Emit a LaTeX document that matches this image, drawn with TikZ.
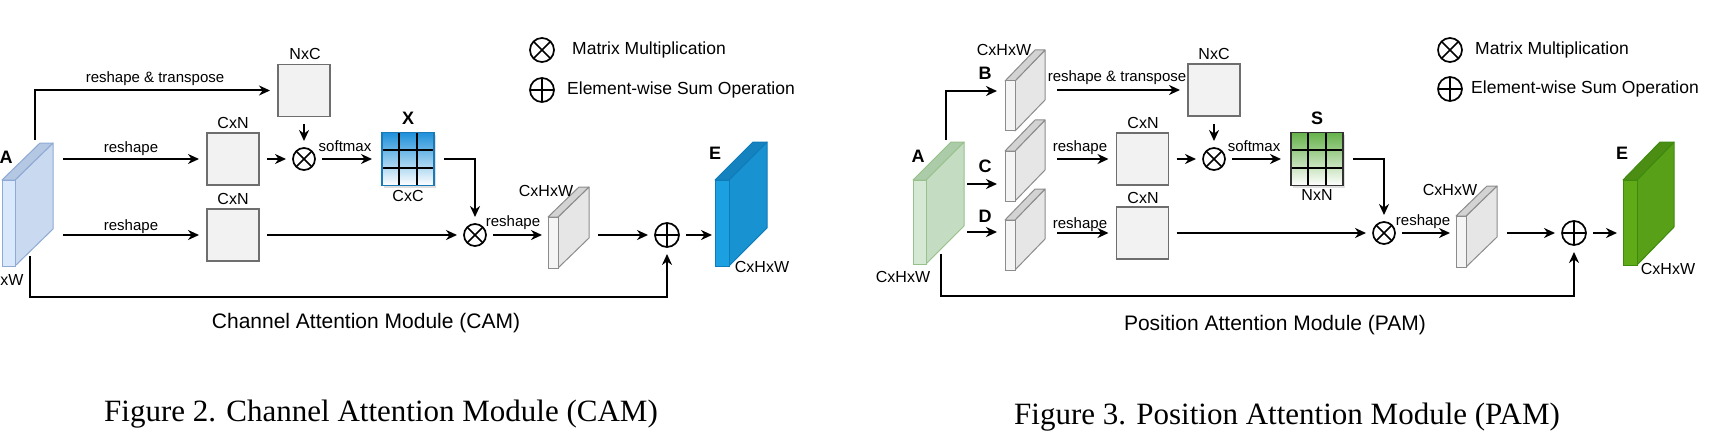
\documentclass[tikz,border=0pt]{standalone}
\usepackage{fontspec}
\setmainfont{Liberation Sans}
\newfontfamily\capfont{Liberation Serif}
\usetikzlibrary{arrows.meta,calc,shadows}

\definecolor{boxfill}{HTML}{F2F2F2}
\definecolor{boxline}{HTML}{6E6E6E}
\definecolor{abF}{HTML}{DAE8FC}
\definecolor{abS}{HTML}{C9D9F0}
\definecolor{abT}{HTML}{B4C7E3}
\definecolor{abB}{HTML}{8EAAD4}
\definecolor{ebF}{HTML}{1BA1E2}
\definecolor{ebS}{HTML}{1892D0}
\definecolor{ebT}{HTML}{1482BE}
\definecolor{ebB}{HTML}{0F7BB8}
\definecolor{gsF}{HTML}{F5F5F5}
\definecolor{gsS}{HTML}{E6E6E6}
\definecolor{gsT}{HTML}{D3D3D3}
\definecolor{gsB}{HTML}{8C8C8C}
\definecolor{agF}{HTML}{D5E8D4}
\definecolor{agS}{HTML}{C4DCC2}
\definecolor{agT}{HTML}{ACCCA9}
\definecolor{agB}{HTML}{97C08A}
\definecolor{egF}{HTML}{60A917}
\definecolor{egS}{HTML}{58A018}
\definecolor{egT}{HTML}{4C8E14}
\definecolor{egB}{HTML}{3E8A0E}
\definecolor{mxBlue}{HTML}{1E90DA}
\definecolor{mxBlueB}{HTML}{1A7AB8}
\definecolor{mxGreen}{HTML}{66B24A}

% slab: x, y (top of front face), width, height, dx, dy(up), colour prefix
\newcommand\myslab[7]{%
  \filldraw[fill=#7S,draw=#7B,line width=1pt,line join=round] (#1+#3,#2) -- ++(#5,-#6) -- ++(0,#4) -- (#1+#3,#2+#4) -- cycle;
  \filldraw[fill=#7T,draw=#7B,line width=1pt,line join=round] (#1,#2) -- (#1+#3,#2) -- ++(#5,-#6) -- ++(-#3,0) -- cycle;
  \filldraw[fill=#7F,draw=#7B,line width=1pt] (#1,#2) rectangle ++(#3,#4);
}

\tikzset{
  lbl/.style={inner sep=0pt,font=\fontsize{15}{17}\selectfont},
  dim/.style={inner sep=0pt,font=\fontsize{16}{18}\selectfont},
  big/.style={inner sep=0pt,font=\bfseries\fontsize{18}{20}\selectfont},
  leg/.style={inner sep=0pt,anchor=west,font=\fontsize{17.5}{20}\selectfont},
  ttl/.style={inner sep=0pt,font=\fontsize{21}{24}\selectfont},
  figcap/.style={inner sep=0pt,anchor=base,font=\capfont\fontsize{31}{34}\selectfont},
  arr/.style={line width=2pt,-{Stealth[length=11pt,width=10pt]}},
  box/.style={draw=boxline,fill=boxfill,line width=1.7pt,minimum width=52pt,minimum height=52pt,inner sep=0pt,outer sep=8pt},
  opx/.style={circle,draw,line width=1.7pt,minimum size=22pt,inner sep=0pt,outer sep=7pt,
    path picture={\draw[line width=1.7pt] (path picture bounding box.north west) -- (path picture bounding box.south east)
      (path picture bounding box.north east) -- (path picture bounding box.south west);}},
  opp/.style={circle,draw,line width=1.7pt,minimum size=24pt,inner sep=0pt,outer sep=7pt,
    path picture={\draw[line width=1.7pt] (path picture bounding box.north) -- (path picture bounding box.south)
      (path picture bounding box.east) -- (path picture bounding box.west);}},
  mat/.style={minimum width=52pt,minimum height=53pt,inner sep=0pt,outer sep=10pt,line width=1.4pt,
    drop shadow={opacity=0.25,shadow xshift=2pt,shadow yshift=-2pt},
    path picture={
      \foreach \f in {0.3333,0.6667}{
        \draw[black,line width=1.8pt] ($(path picture bounding box.north west)!\f!(path picture bounding box.north east)$) -- ($(path picture bounding box.south west)!\f!(path picture bounding box.south east)$);
        \draw[black,line width=1.8pt] ($(path picture bounding box.north west)!\f!(path picture bounding box.south west)$) -- ($(path picture bounding box.north east)!\f!(path picture bounding box.south east)$);
      }}},
}

\begin{document}
\begin{tikzpicture}[x=1pt,y=-1pt]
\useasboundingbox[fill=white] (0,0) rectangle (1712,441);

% ================= CAM =================
\myslab{2}{180}{13}{86}{38}{37}{ab}
\node[big] (cA) at (6,157) {A};
\node[dim] (cAd) at (12,280) {xW};
\coordinate (Atop) at (35,140);
\coordinate (Ar1) at (63,159);
\coordinate (Ar2) at (63,235);
\coordinate (Abot) at (30,256);
\coordinate (Acor) at (30,297);

\node[box] (nxc) at (304,90.5) {};
\node[dim] (nxcl) at (305,54) {NxC};
\node[box] (cxn1) at (233,159) {};
\node[dim] (cxn1l) at (233,123) {CxN};
\node[box] (cxn2) at (233,235) {};
\node[dim] (cxn2l) at (233,199) {CxN};
\node[opx] (mm1) at (304,159) {};
\node[mat,draw=mxBlueB,top color=mxBlue,bottom color=white] (X) at (408,159) {};
\node[big] (Xl) at (408,118) {X};
\node[dim] (Xd) at (408,196) {CxC};
\node[opx] (mm2) at (475,235) {};
\myslab{548}{217}{10}{51}{31}{30}{gs}
\coordinate (G1in) at (542,235);
\coordinate (G1out) at (598,235);
\node[dim] (G1l) at (546,191) {CxHxW};
\node[opp] (sum1) at (667,235) {};
\myslab{715}{180}{14}{86}{38}{38}{eb}
\coordinate (E1in) at (712,235);
\node[big] (E1l) at (715,153) {E};
\node[dim] (E1d) at (762,267) {CxHxW};

\draw[arr] (Atop) |- (nxc.west);
\draw[arr] (Ar1) -- (cxn1.west);
\draw[arr] (Ar2) -- (cxn2.west);
\draw[arr] (nxc.south) -- (mm1.north);
\draw[arr] (cxn1.east) -- (mm1.west);
\draw[arr] (mm1.east) -- (X.west);
\draw[arr] (X.east) -| (mm2.north);
\draw[arr] (cxn2.east) -- (mm2.west);
\draw[arr] (mm2.east) -- (G1in);
\draw[arr] (G1out) -- (sum1.west);
\draw[arr] (sum1.east) -- (E1in);
\draw[arr] (Abot) -- (Acor) -| (sum1.south);

\node[lbl] (ct1) at (155,79) {reshape \& transpose};
\node[lbl] (ct2) at (131,149) {reshape};
\node[lbl] (ct3) at (131,227) {reshape};
\node[lbl] (ct4) at (345,146) {softmax};
\node[lbl] (ct5) at (513,223) {reshape};

\node[opx,minimum size=24pt] (lg1) at (542,50) {};
\node[leg] (lg1t) at (572,50) {Matrix Multiplication};
\node[opp] (lg2) at (542,90) {};
\node[leg] (lg2t) at (567,90) {Element-wise Sum Operation};

\node[ttl] (cttl) at (366,323) {Channel Attention Module (CAM)};
\node[figcap] (ccap) at (381,421) {Figure 2. Channel Attention Module (CAM)};

% ================= PAM =================
\myslab{913}{180}{13}{84}{38}{38}{ag}
\node[big] (pA) at (918,156) {A};
\node[dim] (pAd) at (903,277) {CxHxW};
\coordinate (A2top) at (946,140);
\coordinate (A2c) at (967,184);
\coordinate (A2d) at (967,232);
\coordinate (A2bot) at (941,254);
\coordinate (A2cor) at (941,296);

\myslab{1005}{81}{10}{50}{30}{31}{gs}
\myslab{1005}{151}{10}{50}{30}{31}{gs}
\myslab{1005}{220}{10}{50}{30}{31}{gs}
\coordinate (Bin) at (997,91);
\coordinate (Cin) at (997,184);
\coordinate (Din) at (997,232);
\coordinate (Bout) at (1057,90);
\coordinate (Cout) at (1057,159);
\coordinate (Dout) at (1057,233);
\node[big] (pB) at (985,73) {B};
\node[big] (pC) at (985,166) {C};
\node[big] (pD) at (985,216) {D};
\node[dim] (pBd) at (1004,50) {CxHxW};

\node[box] (nxc2) at (1214,90) {};
\node[dim] (nxc2l) at (1214,54) {NxC};
\node[box] (cxn3) at (1142.5,159) {};
\node[dim] (cxn3l) at (1143,123) {CxN};
\node[box] (cxn4) at (1142.5,233) {};
\node[dim] (cxn4l) at (1143,198) {CxN};
\node[opx] (mm3) at (1214,159) {};
\node[mat,draw=black!80,top color=mxGreen,bottom color=white] (S) at (1317,159) {};
\node[big] (Sl) at (1317,118) {S};
\node[dim] (Sd) at (1317,195) {NxN};
\node[opx] (mm4) at (1384,233) {};
\myslab{1456}{216}{10}{51}{31}{30}{gs}
\coordinate (G2in) at (1450,233);
\coordinate (G2out) at (1507,233);
\node[dim] (G2l) at (1450,190) {CxHxW};
\node[opp] (sum2) at (1574,233) {};
\myslab{1623}{180}{14}{85}{37}{38}{eg}
\coordinate (E2in) at (1617,233);
\node[big] (E2l) at (1622,153) {E};
\node[dim] (E2d) at (1668,269) {CxHxW};

\draw[arr] (A2top) |- (Bin);
\draw[arr] (A2c) -- (Cin);
\draw[arr] (A2d) -- (Din);
\draw[arr] (Bout) -- (nxc2.west);
\draw[arr] (Cout) -- (cxn3.west);
\draw[arr] (Dout) -- (cxn4.west);
\draw[arr] (nxc2.south) -- (mm3.north);
\draw[arr] (cxn3.east) -- (mm3.west);
\draw[arr] (mm3.east) -- (S.west);
\draw[arr] (S.east) -| (mm4.north);
\draw[arr] (cxn4.east) -- (mm4.west);
\draw[arr] (mm4.east) -- (G2in);
\draw[arr] (G2out) -- (sum2.west);
\draw[arr] (sum2.east) -- (E2in);
\draw[arr] (A2bot) -- (A2cor) -| (sum2.south);

\node[lbl] (pt1) at (1117,78) {reshape \& transpose};
\node[lbl] (pt2) at (1080,148) {reshape};
\node[lbl] (pt3) at (1080,225) {reshape};
\node[lbl] (pt4) at (1254,146) {softmax};
\node[lbl] (pt5) at (1423,222) {reshape};

\node[opx,minimum size=24pt] (lg3) at (1450,50) {};
\node[leg] (lg3t) at (1475,50) {Matrix Multiplication};
\node[opp] (lg4) at (1450,89) {};
\node[leg] (lg4t) at (1471,89) {Element-wise Sum Operation};

\node[ttl] (pttl) at (1275,325) {Position Attention Module (PAM)};
\node[figcap] (pcap) at (1287,424) {Figure 3. Position Attention Module (PAM)};
\end{tikzpicture}
\end{document}
